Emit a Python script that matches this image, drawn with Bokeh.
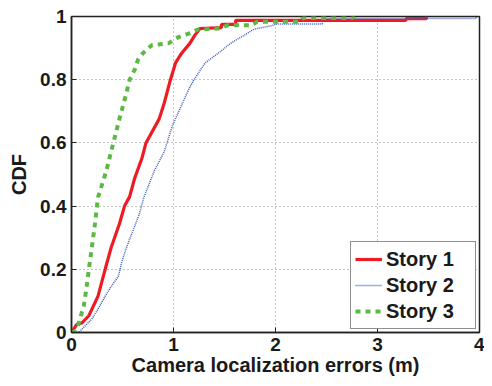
from bokeh.plotting import figure
from bokeh.models import FixedTicker, Range1d, Legend, LegendItem
from bokeh.embed import file_html
from bokeh.resources import INLINE

story1_x = [0.0, 0.05, 0.10, 0.17, 0.26, 0.33, 0.39, 0.47, 0.52, 0.57, 0.62, 0.69, 0.73,
            0.86, 0.91, 0.97, 1.02, 1.08, 1.16, 1.21, 1.26, 1.47, 1.47, 1.61, 1.61,
            3.28, 3.28, 3.48, 3.48]
story1_y = [0.0, 0.025, 0.03, 0.053, 0.115, 0.20, 0.27, 0.344, 0.40, 0.43, 0.489, 0.551, 0.60,
            0.676, 0.727, 0.80, 0.853, 0.884, 0.915, 0.941, 0.962, 0.965, 0.975, 0.975, 0.988,
            0.988, 0.993, 0.993, 1.0]

story2_x = [0.0, 0.07, 0.13, 0.20, 0.26, 0.33, 0.39, 0.46, 0.49, 0.54, 0.60, 0.665, 0.71,
            0.81, 0.91, 0.99, 1.15, 1.20, 1.31, 1.44, 1.56, 1.69, 1.79, 1.95, 2.01,
            2.46, 2.46, 3.97, 3.97]
story2_y = [0.0, 0.0, 0.02, 0.043, 0.074, 0.115, 0.146, 0.178, 0.22, 0.27, 0.32, 0.375, 0.428,
            0.51, 0.573, 0.655, 0.77, 0.80, 0.853, 0.884, 0.915, 0.94, 0.96, 0.97, 0.976,
            0.976, 0.994, 0.994, 1.0]

story3_x = [0.0, 0.04, 0.07, 0.12, 0.145, 0.17, 0.20, 0.23, 0.25, 0.26, 0.34, 0.41, 0.47,
            0.54, 0.57, 0.62, 0.65, 0.70, 0.79, 0.95, 1.05, 1.15, 1.24, 1.44, 1.53, 1.76,
            1.82, 2.24, 2.27, 2.75, 2.78]
story3_y = [0.0, 0.005, 0.028, 0.084, 0.136, 0.20, 0.27, 0.344, 0.40, 0.428, 0.51, 0.60, 0.676,
            0.76, 0.80, 0.832, 0.862, 0.884, 0.91, 0.915, 0.935, 0.946, 0.959, 0.962, 0.972, 0.972,
            0.983, 0.983, 0.995, 0.995, 1.0]

series_names = ["Story 1", "Story 2", "Story 3"]
x_ticks = [0, 1, 2, 3, 4]
y_ticks = [0, 0.2, 0.4, 0.6, 0.8, 1]
y_tick_labels = ["0", "0.2", "0.4", "0.6", "0.8", "1"]
x_label = "Camera localization errors (m)"
y_label = "CDF"

FONT = "Liberation Sans"
TXT = "#1a1a1a"

p = figure(width=484, height=378, output_backend="svg", toolbar_location=None,
           x_range=Range1d(0, 4), y_range=Range1d(0, 1),
           min_border_left=71, min_border_right=5, min_border_top=16, min_border_bottom=44)
p.background_fill_color = "white"
p.border_fill_color = "white"
p.outline_line_color = "#222222"
p.outline_line_width = 1.5

r1 = p.line(story1_x, story1_y, line_color="#ED1C24", line_width=3.2)
r2 = p.line(story2_x, story2_y, line_color="#3F5FBF", line_width=1.5, line_dash="1 1")
r3 = p.line(story3_x, story3_y, line_color="#5CB946", line_width=4, line_dash="5 5")

# axes styling
for ax in (p.xaxis[0], p.yaxis[0]):
    ax.axis_line_color = "#222222"
    ax.axis_line_width = 1.5
    ax.major_tick_in = 5
    ax.major_tick_out = 0
    ax.major_tick_line_color = "#222222"
    ax.minor_tick_line_color = None
    ax.major_label_text_font = FONT
    ax.major_label_text_font_style = "bold"
    ax.major_label_text_font_size = "19px"
    ax.major_label_text_color = TXT
    ax.axis_label_text_font = FONT
    ax.axis_label_text_font_style = "bold"
    ax.axis_label_text_font_size = "20px"
    ax.axis_label_text_color = TXT

p.xaxis[0].ticker = FixedTicker(ticks=x_ticks)
p.xaxis[0].axis_label = x_label
p.xaxis[0].major_label_standoff = 5
p.xaxis[0].axis_label_standoff = 0

p.yaxis[0].ticker = FixedTicker(ticks=y_ticks)
p.yaxis[0].major_label_overrides = {t: l for t, l in zip(y_ticks, y_tick_labels)}
p.yaxis[0].axis_label = y_label
p.yaxis[0].major_label_standoff = 5
p.yaxis[0].axis_label_standoff = 7

# grid
for g in (p.xgrid[0], p.ygrid[0]):
    g.grid_line_color = "#8a8a8a"
    g.grid_line_dash = "1 3"
    g.grid_line_width = 1
p.xgrid[0].ticker = FixedTicker(ticks=x_ticks)
p.ygrid[0].ticker = FixedTicker(ticks=y_ticks)

legend = Legend(items=[LegendItem(label=series_names[0], renderers=[r1]),
                       LegendItem(label=series_names[1], renderers=[r2]),
                       LegendItem(label=series_names[2], renderers=[r3])],
                location="bottom_right")
legend.label_text_font = FONT
legend.label_text_font_style = "bold"
legend.label_text_font_size = "20px"
legend.label_text_color = TXT
legend.border_line_color = "#222222"
legend.border_line_width = 1.5
legend.background_fill_alpha = 1
legend.padding = 4
legend.spacing = 0
legend.margin = 3
legend.glyph_width = 27
legend.glyph_height = 26
legend.label_height = 26
legend.label_width = 85
legend.label_standoff = 4
p.add_layout(legend, "center")

open("out.html", "w").write(file_html(p, INLINE))
